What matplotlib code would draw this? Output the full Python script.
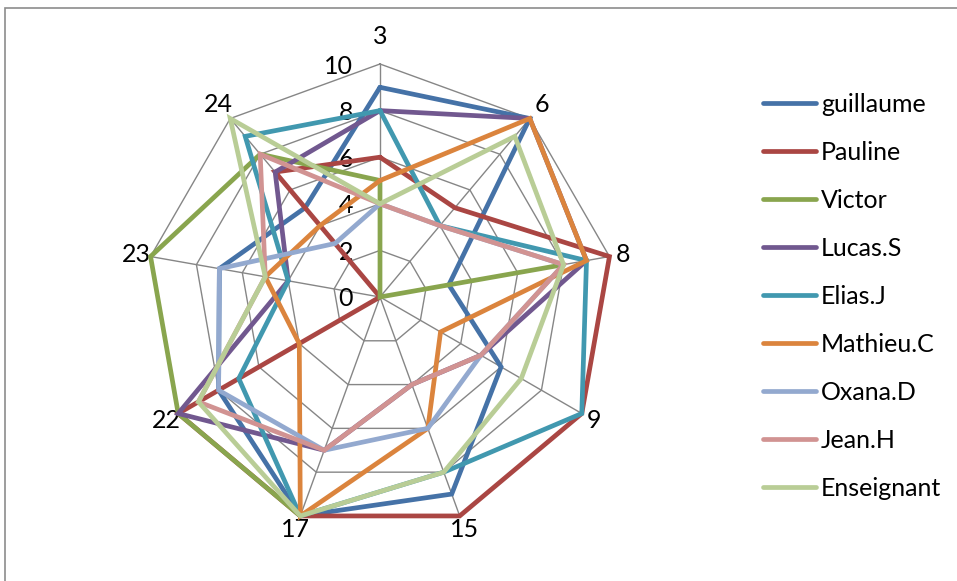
import numpy as np
import matplotlib
matplotlib.use('Agg')
import matplotlib.pyplot as plt
from matplotlib.patches import Rectangle
from matplotlib.transforms import offset_copy

plt.rcParams['font.family'] = ['Lato', 'DejaVu Sans']

categories = ['3', '6', '8', '9', '15', '17', '22', '23', '24']
names = ['guillaume', 'Pauline', 'Victor', 'Lucas.S', 'Elias.J',
         'Mathieu.C', 'Oxana.D', 'Jean.H', 'Enseignant']

guillaume = [9, 10, 3, 6, 9, 10, 8, 7, 5]
pauline = [6, 5, 10, 10, 10, 10, 10, 0, 7]
victor = [5, 0, 8, np.nan, np.nan, 10, 10, 10, 8]
lucas = [8, 10, 9, 5, 4, 7, 10, 4, 7]
elias = [8, 4, 9, 10, 8, 10, 7, 4, 9]
mathieu = [5, 10, 9, 3, 6, 10, 4, 5, 4]
oxana = [4, 4, 8, 5, 6, 7, 8, 7, 3]
jean = [4, 4, 8, 5, 4, 7, 9, 5, 8]
enseignant = [4, 9, 8, 7, 8, 10, 9, 5, 10]

series = [guillaume, pauline, victor, lucas, elias, mathieu, oxana, jean, enseignant]
colors = ['#4572A7', '#AA4643', '#89A54E', '#71588F', '#4198AF',
          '#DB843D', '#93A9CF', '#D19392', '#B9CD96']

W, H = 957, 581
fig = plt.figure(figsize=(W / 100, H / 100), dpi=100)

# chart frame (only top and left edges visible in the crop)
fig.add_artist(Rectangle((5 / W, -0.1), 2, (H - 8.3) / H + 0.1,
                         transform=fig.transFigure, fill=False,
                         edgecolor='#8c8c8c', lw=1.2))

cx, cy, rad = 380, H - 297, 233
ax = fig.add_axes([(cx - rad) / W, (cy - rad) / H, 2 * rad / W, 2 * rad / H],
                  projection='polar')
ax.set_theta_offset(np.pi / 2)
ax.set_theta_direction(-1)
ax.set_ylim(0, 10)
ax.set_xticks([])
ax.set_yticks([])
ax.grid(False)
ax.spines['polar'].set_visible(False)
ax.patch.set_visible(False)

theta = np.linspace(0, 2 * np.pi, len(categories), endpoint=False)
theta_c = np.append(theta, theta[0])

grid_color = '#868686'
for lvl in [2, 4, 6, 8, 10]:
    ax.plot(theta_c, [lvl] * len(theta_c), color=grid_color, lw=1.0,
            zorder=1, clip_on=False)
for t in theta:
    ax.plot([t, t], [0, 10], color=grid_color, lw=1.0, zorder=1, clip_on=False)

handles = []
for i, (vals, col) in enumerate(zip(series, colors)):
    v = np.append(np.array(vals, dtype=float), vals[0])
    ln, = ax.plot(theta_c, v, color=col, lw=3.4, solid_joinstyle='miter',
                  solid_capstyle='round', zorder=3 + i, clip_on=False)
    handles.append(ln)

# radial value labels, left of the top spoke
lab_tr = offset_copy(ax.transData, fig=fig, x=-27, y=-2, units='dots')
for lvl in range(0, 11, 2):
    ax.text(0, lvl, str(lvl), transform=lab_tr, ha='right', va='center',
            fontsize=18)

# category labels around the outside
px_per_unit = rad / 10
for t, cat in zip(theta, categories):
    off = 14 + 13 * max(np.cos(t), 0) ** 4
    ax.text(t, 10 + off / px_per_unit, cat, ha='center', va='center',
            fontsize=18)

fig.legend(handles, names, loc='upper left', bbox_to_anchor=(763 / W, 0.840),
           frameon=False, fontsize=18, handlelength=2.1, handletextpad=0.22,
           labelspacing=1.0, borderpad=0, borderaxespad=0)

fig.savefig('out.png', dpi=100)
plt.close(fig)
